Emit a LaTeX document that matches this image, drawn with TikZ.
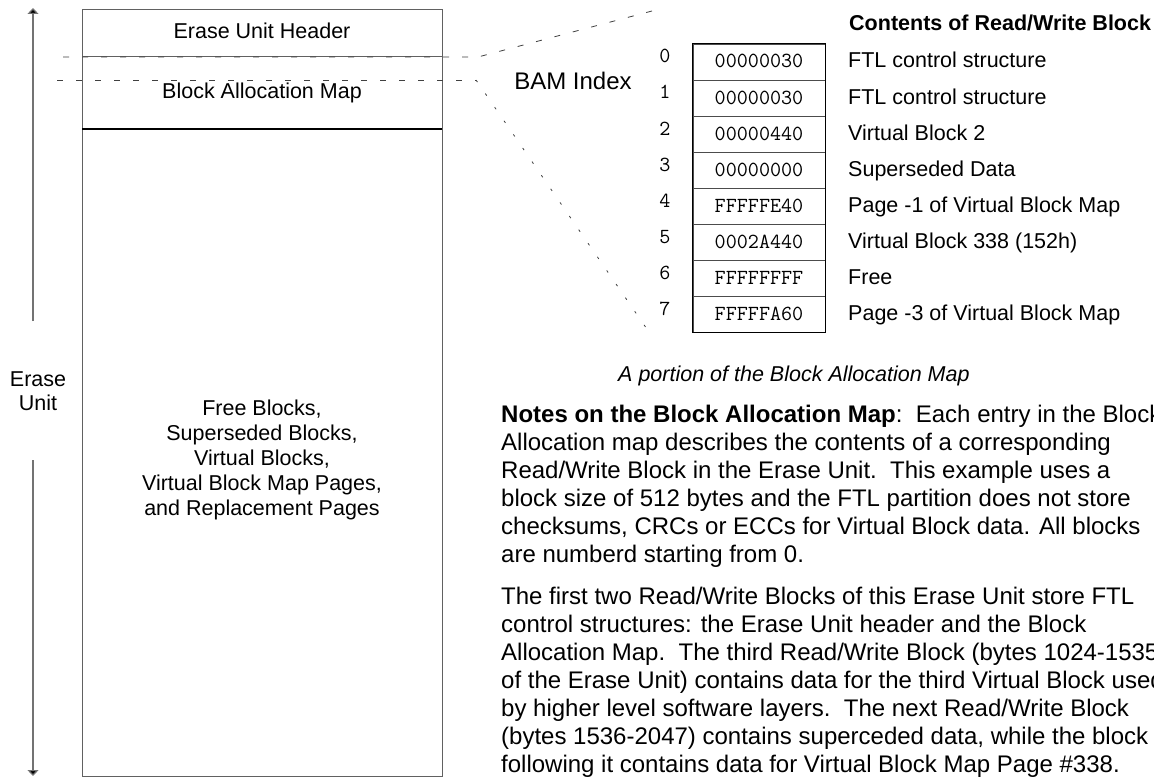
\documentclass[tikz,border=0pt]{standalone}
\usepackage{fontspec}
\setmainfont{Liberation Sans}
\usetikzlibrary{arrows.meta}

\begin{document}
\begin{tikzpicture}[x=1pt,y=-1pt,
  lbl/.style={inner sep=0pt, font=\fontsize{21.5}{24}\selectfont},
  big/.style={inner sep=0pt, font=\fontsize{24}{28}\selectfont},
  mono/.style={inner sep=0pt, font=\fontsize{21.5}{24}\ttfamily},
  boxline/.style={draw=black!62, line width=1pt},
  axisline/.style={draw=black!55, line width=1.2pt, -{Triangle[width=11pt,length=6pt,fill=black]}},
  zoomdash/.style={draw=black!75, line width=0.8pt, dash pattern=on 6pt off 13pt},
  zoomdot/.style={draw=black!75, line width=0.8pt, dash pattern=on 2.5pt off 14pt},
  cell/.style={draw=black!70, line width=0.9pt, minimum width=132pt, minimum height=36pt, inner sep=0pt}]
\useasboundingbox (0,0) rectangle (1154,784);
\fill[white] (0,0) rectangle (1154,784);

% ---- Erase unit extent arrow ----
\node[lbl, anchor=base] (eu1) at (38,386) {Erase};
\node[lbl, anchor=base] (eu2) at (38,410) {Unit};
\coordinate (arrTopStart) at (33,321);
\coordinate (arrTop) at (33,8);
\coordinate (arrBotStart) at (33,460);
\coordinate (arrBot) at (33,776);
\draw[axisline] (arrTopStart) -- (arrTop);
\draw[axisline] (arrBotStart) -- (arrBot);

% ---- Erase unit layout ----
\draw[boxline] (82,10) rectangle (442,776);
\draw[boxline] (82,57) -- (442,57);
\draw[line width=2pt] (82,129) -- (442,129);
\node[lbl, anchor=base] (hdr) at (262,39) {Erase Unit Header};
\node[lbl, anchor=base] (bam) at (262,98) {Block Allocation Map};
\foreach \t [count=\k from 0] in {{Free Blocks,},{Superseded Blocks,},{Virtual Blocks,},{Virtual Block Map Pages,},{and Replacement Pages}}
  \node[lbl, anchor=base] (fb\k) at (262,415+25*\k) {\t};

% ---- zoom lines from the map region to the table ----
\coordinate (z1a) at (63,57);
\coordinate (z1b) at (478,57);
\coordinate (z1c) at (652,11);
\coordinate (z2a) at (57,80);
\coordinate (z2b) at (476,80);
\coordinate (z2c) at (651,335);
\draw[zoomdash] (z1a) -- (z1b) -- (z1c);
\draw[zoomdash] (z2a) -- (z2b);
\draw[zoomdot] (z2b) -- (z2c);

% ---- BAM table ----
\node[big, anchor=base] (bamidx) at (573,89) {BAM Index};
\node[lbl, anchor=base west] (title) at (849,31) {\bfseries Contents of Read/Write Block};
\foreach \hex/\lab [count=\i from 0] in {00000030/FTL control structure,00000030/FTL control structure,00000440/Virtual Block 2,00000000/Superseded Data,FFFFFE40/Page -1 of Virtual Block Map,0002A440/Virtual Block 338 (152h),FFFFFFFF/Free,FFFFFA60/Page -3 of Virtual Block Map}{
  \node[cell] (c\i) at (759,62+36*\i) {};
  \node[mono, anchor=base] (h\i) at (759,68+36*\i) {\hex};
  \node[mono, anchor=base] (n\i) at (665,63+36*\i) {\i};
  \node[lbl, anchor=base west] (l\i) at (848,68+36*\i) {\lab};
}
\draw[line width=1.1pt] (c0.north west) rectangle (c7.south east);
\node[lbl, anchor=base west] (cap) at (618,381) {\itshape A portion of the Block Allocation Map};

% ---- notes ----
\begin{scope}
\clip (0,0) rectangle (1154,784);
\foreach \t [count=\k from 0] in {
  {\textbf{Notes on the Block Allocation Map}:\ \ Each entry in the Block},
  {Allocation map describes the contents of a corresponding},
  {Read/Write Block in the Erase Unit.\ \ This example uses a},
  {block size of 512 bytes and the FTL partition does not store},
  {checksums, CRCs or ECCs for Virtual Block data. All blocks},
  {are numberd starting from 0.}}
  \node[big, anchor=base west] (na\k) at (501,422+28*\k) {\t};
\foreach \t [count=\k from 0] in {
  {The first two Read/Write Blocks of this Erase Unit store FTL},
  {control structures: the Erase Unit header and the Block},
  {Allocation Map.\ \ The third Read/Write Block (bytes 1024-1535},
  {of the Erase Unit) contains data for the third Virtual Block used},
  {by higher level software layers.\ \ The next Read/Write Block},
  {(bytes 1536-2047) contains superceded data, while the block},
  {following it contains data for Virtual Block Map Page \#338.}}
  \node[big, anchor=base west] (nb\k) at (501,604+28*\k) {\t};
\end{scope}
\end{tikzpicture}
\end{document}
